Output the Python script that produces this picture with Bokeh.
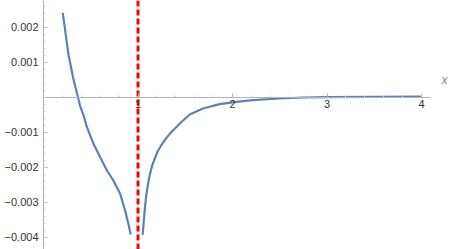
from bokeh.plotting import figure
from bokeh.models import FixedTicker, Span, Range1d, LinearAxis
from bokeh.embed import file_html
from bokeh.resources import INLINE

# left branch (x < 1)
x_left = [0.203, 0.2175, 0.232, 0.2456, 0.266, 0.2877, 0.308, 0.3333, 0.365, 0.386,
          0.424, 0.460, 0.529, 0.600, 0.671, 0.740, 0.811, 0.863, 0.898, 0.923]
y_left = [2.42e-3, 2.152e-3, 1.866e-3, 1.581e-3, 1.20e-3, 0.914e-3, 0.629e-3,
          0.343e-3, 0.009e-3, -0.229e-3, -0.514e-3, -0.849e-3, -1.323e-3,
          -1.706e-3, -2.086e-3, -2.371e-3, -2.751e-3, -3.229e-3, -3.609e-3,
          -3.914e-3]
# right branch (x > 1)
x_right = [1.049, 1.0545, 1.063, 1.0737, 1.087, 1.1035, 1.123, 1.1474, 1.176,
           1.2070, 1.245, 1.298, 1.351, 1.456, 1.547, 1.687, 1.863, 2.039, 2.214,
           2.495, 2.75, 3.0, 3.5, 4.0]
y_right = [-3.923e-3, -3.752e-3, -3.466e-3, -3.133e-3, -2.80e-3, -2.514e-3,
           -2.229e-3, -1.962e-3, -1.751e-3, -1.543e-3, -1.371e-3, -1.162e-3,
           -0.991e-3, -0.706e-3, -0.486e-3, -0.314e-3, -0.191e-3, -0.123e-3,
           -0.077e-3, -0.029e-3, 0.0, 0.01e-3, 0.02e-3, 0.025e-3]

x_ticks = [1, 2, 3, 4]
x_tick_labels = ["1", "2", "3", "4"]
x_minor = [0.2, 0.4, 0.6, 0.8, 1.2, 1.4, 1.6, 1.8, 2.2, 2.4, 2.6, 2.8,
           3.2, 3.4, 3.6, 3.8]
y_ticks = [-0.004, -0.003, -0.002, -0.001, 0.001, 0.002]
y_tick_labels = ["\u22120.004", "\u22120.003", "\u22120.002", "\u22120.001", "0.001", "0.002"]
y_minor = [round(-0.0042 + 0.0002 * i, 4) for i in range(0, 36)]
asymptote = 1.0
axis_name = "x"
axis_name_pos = 0.0005

p = figure(width=450, height=249, output_backend="svg", toolbar_location=None,
           x_range=Range1d(0, 4.0947), y_range=Range1d(-4.343e-3, 2.771e-3),
           min_border_left=43, min_border_right=18, min_border_top=0, min_border_bottom=0)
p.outline_line_color = None
p.grid.visible = False
p.background_fill_color = "white"
p.border_fill_color = "white"

p.xaxis.fixed_location = 0
p.xaxis.ticker = FixedTicker(ticks=x_ticks, minor_ticks=x_minor)
p.yaxis.ticker = FixedTicker(ticks=y_ticks, minor_ticks=y_minor)
p.yaxis.major_label_overrides = {t: l for t, l in zip(y_ticks, y_tick_labels)}
p.xaxis.major_label_overrides = {t: l for t, l in zip(x_ticks, x_tick_labels)}

for ax in (p.xaxis, p.yaxis):
    ax.axis_line_color = "#b3b3b3"
    ax.axis_line_width = 1
    ax.major_tick_line_color = "#b3b3b3"
    ax.minor_tick_line_color = "#cccccc"
    ax.major_tick_in = 4
    ax.major_tick_out = 0
    ax.minor_tick_in = 2
    ax.minor_tick_out = 0
    ax.major_label_text_font = "Liberation Sans"
    ax.major_label_text_font_size = "11px"
    ax.major_label_text_color = "#333333"
p.yaxis.major_label_standoff = 5
p.xaxis.major_label_standoff = 3

# axis name "x" at the right end of the horizontal axis
name_axis = LinearAxis(ticker=FixedTicker(ticks=[axis_name_pos], minor_ticks=[]),
                       major_label_overrides={axis_name_pos: axis_name},
                       axis_line_color=None, major_tick_line_color=None,
                       minor_tick_line_color=None, major_label_standoff=5,
                       major_label_text_font="Liberation Sans",
                       major_label_text_font_size="12px",
                       major_label_text_font_style="italic",
                       major_label_text_color="#8c8c8c")
p.add_layout(name_axis, "right")

p.add_layout(Span(location=asymptote, dimension="height", line_color="#ff0000",
                  line_width=3, line_dash="6 3", level="underlay"))

p.line(x_left, y_left, line_color="#5e81b5", line_width=2.2)
p.line(x_right, y_right, line_color="#5e81b5", line_width=2.2)

open("out.html", "w").write(file_html(p, INLINE))
